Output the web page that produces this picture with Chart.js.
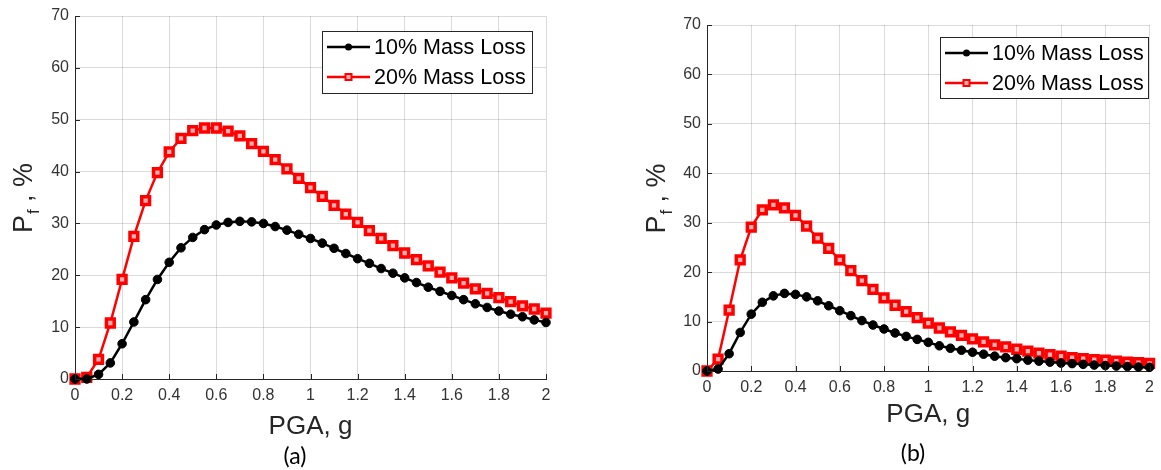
<!DOCTYPE html>
<html>
<head>
<meta charset="utf-8">
<script src="https://cdn.jsdelivr.net/npm/chart.js@4/dist/chart.umd.min.js"></script>
<style>
  body { margin: 0; background: #fff; width: 1161px; height: 470px; overflow: hidden; position: relative; }
  canvas { position: absolute; top: 0; }
  #chartA { left: 0; }
  #chartB { left: 580px; }
  .cap { position: absolute; font-family: Lato, "Open Sans", sans-serif; font-size: 23px; color: #000; transform: translate(-50%, -50%); }
</style>
</head>
<body>
<canvas id="chartA" width="580" height="470"></canvas>
<canvas id="chartB" width="581" height="470"></canvas>
<div class="cap" style="left:295px; top:455px;">(a)</div>
<div class="cap" style="left:913px; top:452px;">(b)</div>
<script>
// PGA values (g)
const pga = [0, 0.05, 0.1, 0.15, 0.2, 0.25, 0.3, 0.35, 0.4, 0.45, 0.5, 0.55, 0.6, 0.65, 0.7, 0.75, 0.8, 0.85, 0.9, 0.95,
  1, 1.05, 1.1, 1.15, 1.2, 1.25, 1.3, 1.35, 1.4, 1.45, 1.5, 1.55, 1.6, 1.65, 1.7, 1.75, 1.8, 1.85, 1.9, 1.95, 2];

// (a) probability of failure, %
const lossA10 = [0, 0, 0.9, 3.1, 6.8, 11.0, 15.3, 19.2, 22.5, 25.3, 27.3, 28.8, 29.7, 30.2, 30.4, 30.3, 30.0, 29.4, 28.7, 27.9,
  27.1, 26.2, 25.2, 24.2, 23.2, 22.3, 21.3, 20.4, 19.5, 18.6, 17.7, 16.9, 16.1, 15.3, 14.5, 13.8, 13.1, 12.5, 12.0, 11.4, 10.9];
const lossA20 = [0, 0.3, 3.8, 10.8, 19.2, 27.5, 34.4, 39.8, 43.8, 46.4, 47.9, 48.4, 48.4, 47.8, 46.9, 45.4, 43.9, 42.3, 40.5, 38.7,
  36.9, 35.2, 33.5, 31.8, 30.2, 28.6, 27.1, 25.7, 24.3, 23.0, 21.8, 20.6, 19.5, 18.5, 17.4, 16.5, 15.7, 14.9, 14.1, 13.5, 12.7];

// (b) probability of failure, %
const lossB10 = [0, 0.4, 3.5, 7.8, 11.5, 13.9, 15.2, 15.7, 15.5, 15.0, 14.2, 13.2, 12.2, 11.2, 10.2, 9.3, 8.5, 7.7, 7.0, 6.4,
  5.8, 5.1, 4.6, 4.2, 3.8, 3.4, 3.0, 2.7, 2.5, 2.2, 2.0, 1.8, 1.6, 1.5, 1.35, 1.2, 1.1, 1.0, 0.9, 0.8, 0.75];
const lossB20 = [0, 2.4, 12.3, 22.5, 29.1, 32.6, 33.6, 33.0, 31.5, 29.3, 26.9, 24.8, 22.5, 20.3, 18.3, 16.5, 14.8, 13.3, 12.0, 10.8,
  9.7, 8.7, 7.9, 7.2, 6.5, 5.9, 5.3, 4.9, 4.4, 4.0, 3.6, 3.3, 3.0, 2.7, 2.5, 2.3, 2.2, 2.0, 1.8, 1.7, 1.55];

const seriesNames = ['10% Mass Loss', '20% Mass Loss'];
const xTicks = [0, 0.2, 0.4, 0.6, 0.8, 1, 1.2, 1.4, 1.6, 1.8, 2];
const xTickLabels = ['0', '0.2', '0.4', '0.6', '0.8', '1', '1.2', '1.4', '1.6', '1.8', '2'];
const yTicks = [0, 10, 20, 30, 40, 50, 60, 70];
const yTickLabels = ['0', '10', '20', '30', '40', '50', '60', '70'];
const xTitle = 'PGA, g';

const axisColor = '#262626';
const font = 'Liberation Sans, Arial, sans-serif';

// inward tick marks like matlab
const innerTicks = {
  id: 'innerTicks',
  afterDraw(chart) {
    const ctx = chart.ctx, a = chart.chartArea;
    const xs = chart.scales.x, ys = chart.scales.y;
    ctx.save();
    ctx.strokeStyle = axisColor;
    ctx.lineWidth = 1;
    ctx.beginPath();
    xTicks.forEach(v => {
      const px = Math.round(xs.getPixelForValue(v)) + 0.5;
      ctx.moveTo(px, a.bottom); ctx.lineTo(px, a.bottom - 5);
    });
    yTicks.forEach(v => {
      const py = Math.round(ys.getPixelForValue(v)) + 0.5;
      ctx.moveTo(a.left, py); ctx.lineTo(a.left + 5, py);
    });
    ctx.stroke();
    ctx.restore();
  }
};

// axis titles, y one has a subscript
const axisTitles = {
  id: 'axisTitles',
  afterDraw(chart, args, opts) {
    const ctx = chart.ctx, a = chart.chartArea;
    ctx.save();
    ctx.fillStyle = axisColor;
    ctx.textBaseline = 'middle';
    ctx.textAlign = 'center';
    ctx.font = '26px ' + font;
    ctx.fillText(xTitle, (a.left + a.right) / 2, a.bottom + opts.xOffset);

    const big = '27px ' + font, small = '17px ' + font;
    ctx.textBaseline = 'alphabetic';
    ctx.textAlign = 'left';
    ctx.font = big; const w1 = ctx.measureText('P').width;
    const w3 = ctx.measureText(' , %').width;
    ctx.font = small; const w2 = ctx.measureText('f').width;
    const total = w1 + w2 + w3;
    ctx.translate(a.left - opts.yOffset, (a.top + a.bottom) / 2 + 1);
    ctx.rotate(-Math.PI / 2);
    let x = -total / 2;
    ctx.font = big; ctx.fillText('P', x, 0); x += w1;
    ctx.font = small; ctx.fillText('f', x + 1, 7); x += w2 + 1;
    ctx.font = big; ctx.fillText(' , %', x, 0);
    ctx.restore();
  }
};

// boxed legend inside the plot
const boxLegend = {
  id: 'boxLegend',
  afterDraw(chart, args, opts) {
    const ctx = chart.ctx, a = chart.chartArea;
    const bx = a.left + opts.left, by = a.top + opts.top;
    ctx.save();
    ctx.fillStyle = '#fff';
    ctx.fillRect(bx, by, opts.width, opts.height);
    ctx.strokeStyle = axisColor;
    ctx.lineWidth = 1;
    ctx.strokeRect(Math.round(bx) + 0.5, Math.round(by) + 0.5, opts.width, opts.height);
    ctx.font = '21.5px ' + font;
    ctx.textBaseline = 'middle';
    chart.data.datasets.forEach((ds, i) => {
      const cy = by + 16 + i * 30;
      const lx = bx + 5;
      ctx.strokeStyle = ds.borderColor;
      ctx.lineWidth = 2.5;
      ctx.beginPath(); ctx.moveTo(lx, cy); ctx.lineTo(lx + 43, cy); ctx.stroke();
      const mx = lx + 21.5;
      if (ds.pointStyle === 'rect') {
        ctx.lineWidth = 2;
        ctx.fillStyle = ds.pointBackgroundColor;
        ctx.fillRect(mx - 3, cy - 3, 6, 6);
        ctx.strokeRect(mx - 3, cy - 3, 6, 6);
      } else {
        ctx.fillStyle = ds.borderColor;
        ctx.beginPath(); ctx.arc(mx, cy, 3.5, 0, Math.PI * 2); ctx.fill();
      }
      ctx.fillStyle = '#000';
      ctx.fillText(ds.label, lx + 47, cy + 1);
    });
    ctx.restore();
  }
};

function makeChart(id, s10, s20, lay) {
  return new Chart(document.getElementById(id), {
    type: 'line',
    data: {
      datasets: [
        {
          label: seriesNames[0],
          data: pga.map((x, i) => ({ x: x, y: s10[i] })),
          borderColor: '#000',
          backgroundColor: '#000',
          borderWidth: 2.5,
          pointStyle: 'circle',
          pointRadius: 4.3,
          pointBackgroundColor: '#000',
          pointBorderColor: '#000',
          pointBorderWidth: 1,
          tension: 0,
          clip: false
        },
        {
          label: seriesNames[1],
          data: pga.map((x, i) => ({ x: x, y: s20[i] })),
          borderColor: '#ff0000',
          backgroundColor: '#ff0000',
          borderWidth: 2.5,
          pointStyle: 'rect',
          pointRadius: 5.5,
          pointBackgroundColor: '#ffb0b0',
          pointBorderColor: '#ff0000',
          pointBorderWidth: 3.5,
          tension: 0,
          clip: false
        }
      ]
    },
    options: {
      responsive: false,
      animation: false,
      events: [],
      layout: { padding: { left: 0, top: lay.top, right: lay.right, bottom: 0 } },
      scales: {
        x: {
          type: 'linear',
          min: 0, max: 2,
          afterBuildTicks: s => { s.ticks = xTicks.map(v => ({ value: v })); },
          afterFit: s => { s.height = lay.xHeight; },
          ticks: {
            autoSkip: false, maxRotation: 0, padding: 7,
            color: '#333', font: { family: font, size: 16 },
            callback: v => xTickLabels[xTicks.findIndex(t => Math.abs(t - v) < 1e-9)]
          },
          grid: { color: 'rgba(0,0,0,0.14)', lineWidth: 1, drawTicks: false },
          border: { color: axisColor, width: 1 }
        },
        y: {
          type: 'linear',
          min: 0, max: 70,
          afterBuildTicks: s => { s.ticks = yTicks.map(v => ({ value: v })); },
          afterFit: s => { s.width = lay.yWidth; },
          ticks: {
            padding: 6,
            color: '#333', font: { family: font, size: 16 },
            callback: v => yTickLabels[yTicks.indexOf(v)]
          },
          grid: { color: 'rgba(0,0,0,0.14)', lineWidth: 1, drawTicks: false },
          border: { color: axisColor, width: 1 }
        }
      },
      plugins: {
        legend: { display: false },
        tooltip: { enabled: false },
        axisTitles: { xOffset: lay.xTitle, yOffset: lay.yTitle },
        boxLegend: lay.legend
      }
    },
    plugins: [innerTicks, axisTitles, boxLegend]
  });
}

makeChart('chartA', lossA10, lossA20, {
  top: 16, right: 34, yWidth: 75, xHeight: 91, xTitle: 48, yTitle: 43,
  legend: { left: 247, top: 15, width: 210, height: 62 }
});
makeChart('chartB', lossB10, lossB20, {
  top: 25, right: 3, yWidth: 127, xHeight: 99, xTitle: 44, yTitle: 42,
  legend: { left: 233, top: 12, width: 208, height: 61 }
});
</script>
</body>
</html>
